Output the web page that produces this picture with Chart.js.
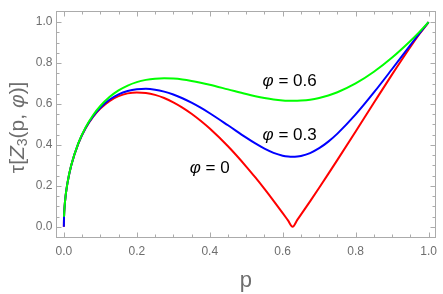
<!DOCTYPE html>
<html>
<head>
<meta charset="utf-8">
<script src="https://cdn.jsdelivr.net/npm/chart.js@4.4.1/dist/chart.umd.min.js"></script>
<style>
  html, body { margin: 0; padding: 0; background: #fff; }
</style>
</head>
<body>
<canvas id="myChart" width="443" height="294"></canvas>
<script>
// p samples and tangle values
const pValues   = [0, 0.0005, 0.002, 0.005, 0.01, 0.02, 0.04, 0.06, 0.08, 0.1, 0.125, 0.15, 0.175, 0.2, 0.225, 0.25, 0.275, 0.3, 0.325, 0.35, 0.375, 0.4, 0.45, 0.5, 0.525, 0.55, 0.575, 0.6, 0.615, 0.627, 0.64, 0.65, 0.675, 0.7, 0.725, 0.75, 0.8, 0.85, 0.9, 0.95, 0.975, 1];
const tauPhi0   = [0, 0.0486, 0.097, 0.1528, 0.2144, 0.2983, 0.4080, 0.4825, 0.5370, 0.5779, 0.6144, 0.6383, 0.6519, 0.6567, 0.6540, 0.6446, 0.6292, 0.6084, 0.5827, 0.5525, 0.5182, 0.4800, 0.3933, 0.2943, 0.2408, 0.1849, 0.1268, 0.0667, 0.0297, 0, 0.0334, 0.0590, 0.1242, 0.1907, 0.2583, 0.3268, 0.4658, 0.6059, 0.7447, 0.8788, 0.9421, 1];
const tauPhi03  = [0, 0.0486, 0.097, 0.1528, 0.2144, 0.2985, 0.4086, 0.4838, 0.5395, 0.5817, 0.6205, 0.6471, 0.6639, 0.6726, 0.6743, 0.6701, 0.6605, 0.6464, 0.6282, 0.6065, 0.5819, 0.5549, 0.4959, 0.4355, 0.4071, 0.3818, 0.3613, 0.3474, 0.3430, 0.3418, 0.3431, 0.3460, 0.3602, 0.3839, 0.4160, 0.4551, 0.5490, 0.6564, 0.7711, 0.8880, 0.9453, 1];
const tauPhi06  = [null, 0.0487, 0.097, 0.1528, 0.2145, 0.2988, 0.4100, 0.4869, 0.5449, 0.5902, 0.6338, 0.6663, 0.6901, 0.7069, 0.7178, 0.7239, 0.7258, 0.7242, 0.7198, 0.7129, 0.7042, 0.6941, 0.6714, 0.6486, 0.6383, 0.6294, 0.6223, 0.6176, 0.6161, 0.6156, 0.6159, 0.6168, 0.6213, 0.6296, 0.6416, 0.6574, 0.7004, 0.7576, 0.8273, 0.9082, 0.9526, 1];

const curveNames = ['0', '0.3', '0.6'];
const nameAtP    = [0.400, 0.619, 0.619];
const nameAtTau  = [0.288, 0.446, 0.713];

const frameGray = '#ababab';
const labelGray = '#6e6e6e';
const sans = '"Liberation Sans", Arial, sans-serif';

function toPoints(ys) {
  return pValues.map((p, i) => ({ x: p, y: ys[i] }));
}

function drawRuns(ctx, runs, cx, cy) {
  let total = 0;
  runs.forEach(r => { ctx.font = r.font; r.w = ctx.measureText(r.text).width; total += r.w; });
  let x = cx - total / 2;
  ctx.textBaseline = 'middle';
  ctx.textAlign = 'left';
  runs.forEach(r => {
    ctx.font = r.font;
    ctx.fillText(r.text, x, cy + (r.dy || 0));
    x += r.w;
  });
}

const framePlugin = {
  id: 'frame',
  beforeDatasetsDraw(chart) {
    const { ctx, chartArea: a, scales: { x, y } } = chart;
    const L = Math.round(a.left) + 0.5, R = Math.round(a.right) - 0.5;
    const T = Math.round(a.top) + 0.5, B = Math.round(a.bottom) - 0.5;
    ctx.save();
    ctx.strokeStyle = frameGray;
    ctx.lineWidth = 1;
    ctx.strokeRect(L, T, R - L, B - T);
    ctx.beginPath();
    for (let i = 0; i <= 20; i++) {
      const v = i * 0.05;
      const len = i % 4 === 0 ? 5 : 3;
      const px = Math.round(x.getPixelForValue(v)) + 0.5;
      ctx.moveTo(px, B); ctx.lineTo(px, B - len);
      ctx.moveTo(px, T); ctx.lineTo(px, T + len);
      const py = Math.round(y.getPixelForValue(v)) + 0.5;
      ctx.moveTo(L, py); ctx.lineTo(L + len, py);
      ctx.moveTo(R, py); ctx.lineTo(R - len, py);
    }
    ctx.stroke();
    ctx.restore();
  },
  afterDraw(chart) {
    const { ctx, chartArea: a, scales: { x, y } } = chart;
    ctx.save();
    // curve names
    ctx.fillStyle = '#000';
    curveNames.forEach((n, i) => {
      drawRuns(ctx, [
        { text: 'φ', font: 'italic 17px ' + sans },
        { text: ' = ' + n, font: '17px ' + sans }
      ], x.getPixelForValue(nameAtP[i]), y.getPixelForValue(nameAtTau[i]));
    });
    // axis titles
    ctx.fillStyle = labelGray;
    drawRuns(ctx, [{ text: 'p', font: '22px ' + sans }], (a.left + a.right) / 2, 281);
    ctx.translate(18, (a.top + a.bottom) / 2 + 3);
    ctx.rotate(-Math.PI / 2);
    drawRuns(ctx, [
      { text: 'τ[', font: '21px ' + sans },
      { text: 'Z', font: 'italic 21px ' + sans },
      { text: '3', font: '14px ' + sans, dy: 5 },
      { text: '(p, ', font: '21px ' + sans },
      { text: 'φ', font: 'italic 21px ' + sans },
      { text: ')]', font: '21px ' + sans }
    ], 0, 0);
    ctx.restore();
  }
};

new Chart(document.getElementById('myChart'), {
  type: 'line',
  data: {
    datasets: [
      { label: 'φ = 0.6', data: toPoints(tauPhi06), borderColor: '#00ff00' },
      { label: 'φ = 0.3', data: toPoints(tauPhi03), borderColor: '#0000ff' },
      { label: 'φ = 0', data: toPoints(tauPhi0), borderColor: '#ff0000' }
    ]
  },
  options: {
    responsive: false,
    animation: false,
    spanGaps: false,
    elements: {
      line: { borderWidth: 2, cubicInterpolationMode: 'monotone', fill: false },
      point: { radius: 0 }
    },
    layout: { padding: { top: 0.5, right: 2.5, left: 0, bottom: 0 } },
    plugins: { legend: { display: false }, tooltip: { enabled: false } },
    scales: {
      x: {
        type: 'linear',
        min: -0.0215,
        max: 1.0195,
        grid: { display: false, drawTicks: false },
        border: { display: false },
        ticks: {
          stepSize: 0.2,
          includeBounds: false,
          padding: 6,
          color: labelGray,
          font: { family: sans, size: 12 },
          maxRotation: 0,
          callback: v => v.toFixed(1)
        },
        afterFit: s => { s.height = 56; }
      },
      y: {
        type: 'linear',
        min: -0.055,
        max: 1.056,
        grid: { display: false, drawTicks: false },
        border: { display: false },
        ticks: {
          stepSize: 0.2,
          includeBounds: false,
          padding: 3.5,
          color: labelGray,
          font: { family: sans, size: 12 },
          callback: v => v.toFixed(1)
        },
        afterFit: s => { s.width = 56; }
      }
    }
  },
  plugins: [framePlugin]
});
</script>
</body>
</html>
